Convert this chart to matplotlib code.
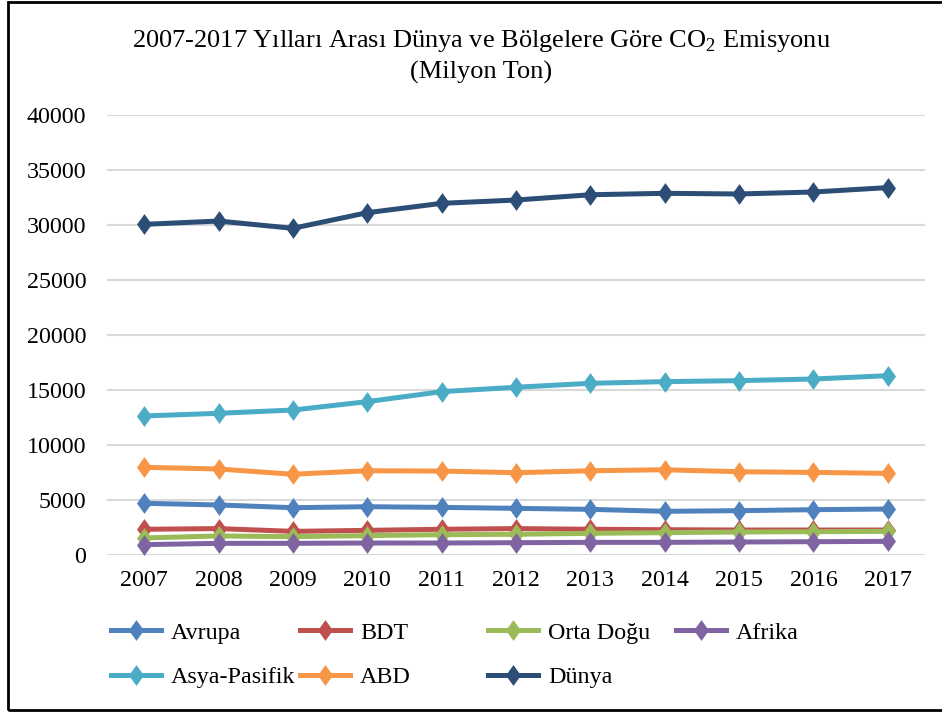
import numpy as np
import matplotlib.pyplot as plt
from matplotlib.patches import Rectangle

plt.rcParams['font.family'] = ['Liberation Serif', 'DejaVu Serif']
plt.rcParams['mathtext.fontset'] = 'custom'
plt.rcParams['mathtext.rm'] = 'Liberation Serif'

# veriler (milyon ton)
yillar = ['2007', '2008', '2009', '2010', '2011', '2012', '2013', '2014', '2015', '2016', '2017']
avrupa = [4700, 4550, 4300, 4390, 4330, 4240, 4150, 3970, 4030, 4120, 4180]
bdt = [2340, 2400, 2150, 2240, 2340, 2400, 2340, 2300, 2270, 2270, 2270]
orta_dogu = [1550, 1730, 1670, 1760, 1850, 1880, 1970, 2030, 2090, 2120, 2150]
afrika = [940, 1060, 1060, 1090, 1090, 1120, 1150, 1150, 1180, 1210, 1240]
asya_pasifik = [12640, 12880, 13180, 13940, 14850, 15250, 15610, 15760, 15850, 16000, 16300]
abd = [7970, 7820, 7340, 7660, 7630, 7480, 7660, 7750, 7570, 7510, 7420]
dunya = [30060, 30360, 29700, 31120, 31970, 32270, 32750, 32880, 32820, 33000, 33400]

seriler = [("Avrupa", avrupa, "#4F81BD"),
           ("BDT", bdt, "#C0504D"),
           ("Orta Doğu", orta_dogu, "#9BBB59"),
           ("Afrika", afrika, "#8064A2"),
           ("Asya-Pasifik", asya_pasifik, "#4BACC6"),
           ("ABD", abd, "#F79646"),
           ("Dünya", dunya, "#2C4D75")]

# Excel tarzi elmas isaret
elmas = [(0, 1), (0.72, 0), (0, -1), (-0.72, 0), (0, 1)]

fig = plt.figure(figsize=(9.42, 7.13), dpi=100)
ax = fig.add_axes([107/942, 1-555/713, 818/942, 440/713])

x = np.arange(len(yillar))
cizgiler = []
for ad, deger, renk in seriler:
    l, = ax.plot(x, deger, color=renk, lw=3.6, marker=elmas, markersize=15,
                 markeredgewidth=0, label=ad, zorder=3)
    cizgiler.append(l)

ax.set_xlim(-0.5, len(yillar) - 0.5)
ax.set_ylim(0, 40000)
ax.set_yticks(np.arange(0, 40001, 5000))
ax.set_xticks(x)
ax.set_xticklabels(yillar)
ax.grid(axis='y', color='#D9D9D9', lw=1.5)
ax.set_axisbelow(True)
for s in ax.spines.values():
    s.set_visible(False)
ax.tick_params(axis='y', length=0, pad=15, labelsize=17.3)
ax.tick_params(axis='x', length=0, pad=11, labelsize=17.3)

# baslik
fig.text(481/942, 1-47/713,
         "2007-2017 Yılları Arası Dünya ve Bölgelere Göre CO$_{\\mathregular{2}}$ Emisyonu",
         ha='center', va='baseline', fontsize=19)
fig.text(481/942, 1-79/713, "(Milyon Ton)", ha='center', va='baseline', fontsize=19)

# lejant: 4 sutun, esit aralikli
sutunlar = [[0, 4], [1, 5], [2, 6], [3]]
x_bas = [111, 300, 488, 676]
for xs, idx in zip(x_bas, sutunlar):
    lg = fig.legend([cizgiler[i] for i in idx], [seriler[i][0] for i in idx],
                    loc='upper left', bbox_to_anchor=(xs/942, 1-622/713),
                    frameon=False, fontsize=17.3, handlelength=2.1,
                    handletextpad=0.4, labelspacing=0.95, borderpad=0,
                    borderaxespad=0)

# cerceve
fig.patches.append(Rectangle((8/942, 1-709.5/713), 2, (709.5-1.5)/713,
                             transform=fig.transFigure, fill=False,
                             edgecolor='black', lw=2))

fig.savefig("out.png", dpi=100)
